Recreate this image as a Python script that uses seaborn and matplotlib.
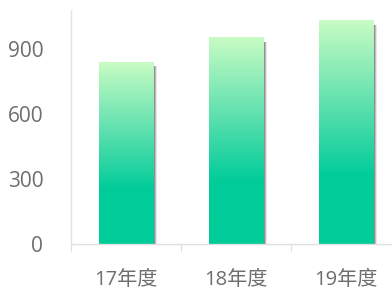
import numpy as np
import pandas as pd
import matplotlib
matplotlib.use("Agg")
import matplotlib.pyplot as plt
import seaborn as sns
from matplotlib.colors import LinearSegmentedColormap
from matplotlib.patches import Rectangle

categories = ["17年度", "18年度", "19年度"]
values = [840, 952, 1030]
y_ticks = [0, 300, 600, 900]

sns.set_theme(style="white")
plt.rcParams['font.family'] = ['Open Sans', 'Noto Sans CJK SC', 'DejaVu Sans']

fig = plt.figure(figsize=(3.92, 2.91), dpi=100)
ax = fig.add_axes([71/392, 47/291, 330/392, 234/291])

df = pd.DataFrame({"cat": categories, "val": values})
sns.barplot(data=df, x="cat", y="val", ax=ax, width=0.5, color="#00cc99")

ax.set_xlim(-0.5, 2.5)
ax.set_ylim(0, 1080)

cmap = LinearSegmentedColormap.from_list(
    "g", [(0.0, "#00cc99"), (0.30, "#00cc99"), (0.65, "#66e2b0"), (1.0, "#c8fcc4")])
grad = np.linspace(0, 1, 256).reshape(-1, 1)

for p in list(ax.patches):
    x0, y0 = p.get_x(), p.get_y()
    w, h = p.get_width(), p.get_height()
    # shadow
    for i, a in enumerate([0.5, 0.3, 0.15]):
        sh = Rectangle((x0 + w, y0), 0.011 * (i + 1), h - 18, facecolor="#606060",
                       alpha=a, edgecolor="none", zorder=1)
        ax.add_patch(sh)
    p.set_facecolor("none")
    p.set_edgecolor("none")
    ax.imshow(grad, extent=[x0, x0 + w, y0, y0 + h], origin="lower",
              cmap=cmap, aspect="auto", zorder=2)

ax.set_xlim(-0.5, 2.5)
ax.set_ylim(0, 1080)

ax.set_xlabel("")
ax.set_ylabel("")
ax.set_yticks(y_ticks)
ax.set_yticklabels([str(v) for v in y_ticks])
ax.tick_params(axis="y", length=0, pad=20, labelsize=15, labelcolor="#6e6e6e")
ax.tick_params(axis="x", which="major", length=0, pad=19, labelsize=14.5, labelcolor="#6e6e6e")
ax.set_xticks([-0.5, 0.5, 1.5, 2.5], minor=True)
ax.tick_params(axis="x", which="minor", length=5, width=0.8, color="#dcdcdc", bottom=True)

for s in ["top", "right"]:
    ax.spines[s].set_visible(False)
ax.spines["left"].set_color("#e4e4e4")
ax.spines["bottom"].set_color("#e0e0e0")
ax.spines["left"].set_linewidth(1.0)
ax.spines["bottom"].set_linewidth(1.0)
ax.grid(False)

fig.savefig("out.png", dpi=100)
